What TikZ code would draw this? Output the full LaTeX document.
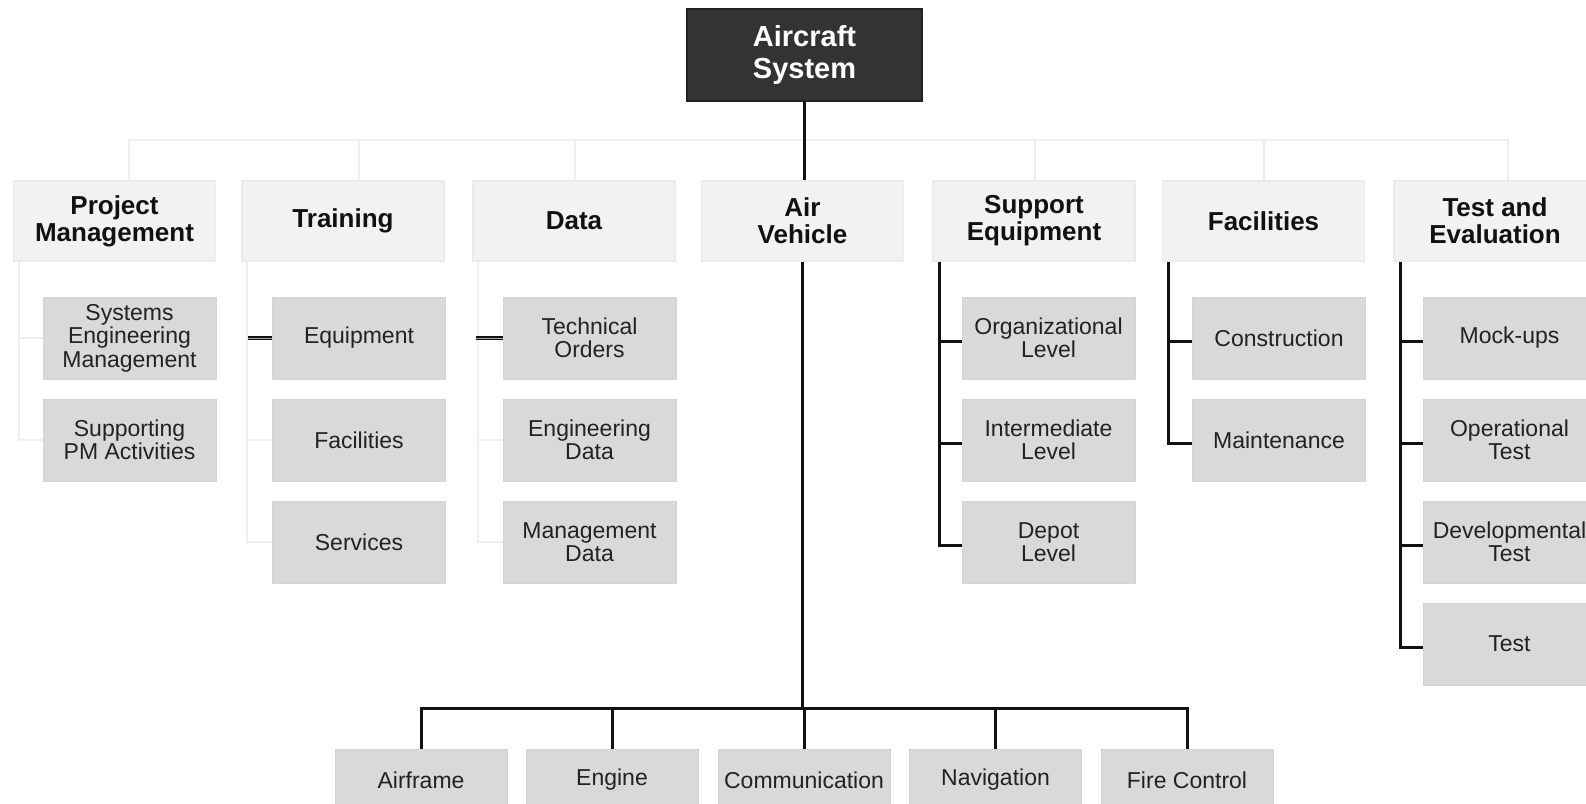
\documentclass[tikz,border=0pt]{standalone}
\usepackage{fontspec}
\setmainfont{Liberation Sans}
\definecolor{rootfill}{HTML}{333333}
\definecolor{rootedge}{HTML}{222222}
\definecolor{ltwofill}{HTML}{F2F2F2}
\definecolor{ltwoedge}{HTML}{EBEBEB}
\definecolor{lthreefill}{HTML}{D9D9D9}
\definecolor{lthreeedge}{HTML}{D3D3D3}
\definecolor{faintline}{HTML}{EFEFEF}
\definecolor{darkline}{HTML}{111111}
\definecolor{txtdark}{HTML}{111111}
\definecolor{txtgray}{HTML}{222222}
\begin{document}
\begin{tikzpicture}[x=1pt,y=-1pt,
  rootbox/.style={fill=rootfill,draw=rootedge,line width=1.5pt,minimum width=235pt,minimum height=92pt,inner sep=0pt,align=center,text=white,font=\fontsize{29}{32}\selectfont\bfseries},
  lvtwo/.style={fill=ltwofill,draw=ltwoedge,line width=1.5pt,minimum width=202pt,minimum height=80pt,inner sep=0pt,align=center,text=txtdark,font=\fontsize{26}{27}\selectfont\bfseries},
  lvthree/.style={fill=lthreefill,draw=lthreeedge,line width=1pt,minimum width=173pt,minimum height=82pt,inner sep=0pt,align=center,text=txtgray,font=\fontsize{23}{23.5}\selectfont},
  lvbottom/.style={lvthree,minimum width=172pt,minimum height=62pt},
  dk/.style={draw=darkline,line width=3pt},
  fnt/.style={draw=faintline,line width=2pt},
  stubdbl/.style={draw=darkline,line width=1.5pt,double=gray!70,double distance=1pt}
]
\useasboundingbox (0,0) rectangle (1586,803);
\clip (0,0) rectangle (1586,803);
\fill[white] (0,0) rectangle (1586,803);

% root
\node[rootbox] (ac) at (804.5,55) {Aircraft\\System};

% level 2
\node[lvtwo] (pm) at (114.5,221) {Project\\Management};
\node[lvtwo] (tr) at (343,221) {Training};
\node[lvtwo] (da) at (574,221) {Data};
\node[lvtwo] (av) at (802.5,221) {Air\\Vehicle};
\node[lvtwo] (se) at (1034,221) {Support\\Equipment};
\node[lvtwo] (fa) at (1263.5,221) {Facilities};
\node[lvtwo] (te) at (1495,221) {Test and\\Evaluation};

% level 3
\node[lvthree] (pm1) at (129.5,338) {Systems\\Engineering\\Management};
\node[lvthree] (pm2) at (129.5,440) {Supporting\\PM Activities};
\node[lvthree] (tr1) at (359,338) {Equipment};
\node[lvthree] (tr2) at (359,440) {Facilities};
\node[lvthree] (tr3) at (359,542) {Services};
\node[lvthree] (da1) at (589.5,338) {Technical\\Orders};
\node[lvthree] (da2) at (589.5,440) {Engineering\\Data};
\node[lvthree] (da3) at (589.5,542) {Management\\Data};
\node[lvthree] (se1) at (1048.5,338) {Organizational\\Level};
\node[lvthree] (se2) at (1048.5,440) {Intermediate\\Level};
\node[lvthree] (se3) at (1048.5,542) {Depot\\Level};
\node[lvthree] (fa1) at (1279,338) {Construction};
\node[lvthree] (fa2) at (1279,440) {Maintenance};
\node[lvthree] (te1) at (1509.5,338) {Mock-ups};
\node[lvthree] (te2) at (1509.5,440) {Operational\\Test};
\node[lvthree] (te3) at (1509.5,542) {Developmental\\Test};
\node[lvthree] (te4) at (1509.5,644) {Test};

% bottom row
\node[lvbottom] (b1) at (421,780) {Airframe};
\node[lvbottom] (b2) at (612,780) {Engine};
\node[lvbottom] (b3) at (804,780) {Communication};
\node[lvbottom] (b4) at (995.5,780) {Navigation};
\node[lvbottom] (b5) at (1187,780) {Fire Control};

\coordinate (busy) at (0,140);
\coordinate (lowbus) at (0,708);

% faint top bus
\foreach \n/\dx in {pm/14,tr/16,da/1,se/1,fa/0,te/13}{
  \draw[fnt] (ac.south |- busy) -| ([xshift=\dx pt]\n.north);
}

% root to air vehicle
\draw[dk] (ac.south) -- (ac.south |- av.north);

% faint child connectors
\foreach \p/\c in {pm/pm1,pm/pm2,tr/tr1,tr/tr2,tr/tr3,da/da1,da/da2,da/da3}{
  \draw[fnt] ([xshift=6pt]\p.south west) |- (\c.west);
}
\draw[stubdbl] ([xshift=7pt]tr.south west |- tr1.west) -- (tr1.west);
\draw[stubdbl] ([xshift=4pt]da.south west |- da1.west) -- (da1.west);

% dark child connectors
\foreach \p/\c in {se/se1,se/se2,se/se3,fa/fa1,fa/fa2,te/te1,te/te2,te/te3,te/te4}{
  \draw[dk] ([xshift=7pt]\p.south west) |- ([yshift=-3pt]\c.west);
}

% air vehicle to bottom row
\foreach \c in {b1,b2,b3,b4,b5}{
  \draw[dk] (av.south) -- (av.south |- lowbus) -| (\c.north);
}
\end{tikzpicture}
\end{document}
